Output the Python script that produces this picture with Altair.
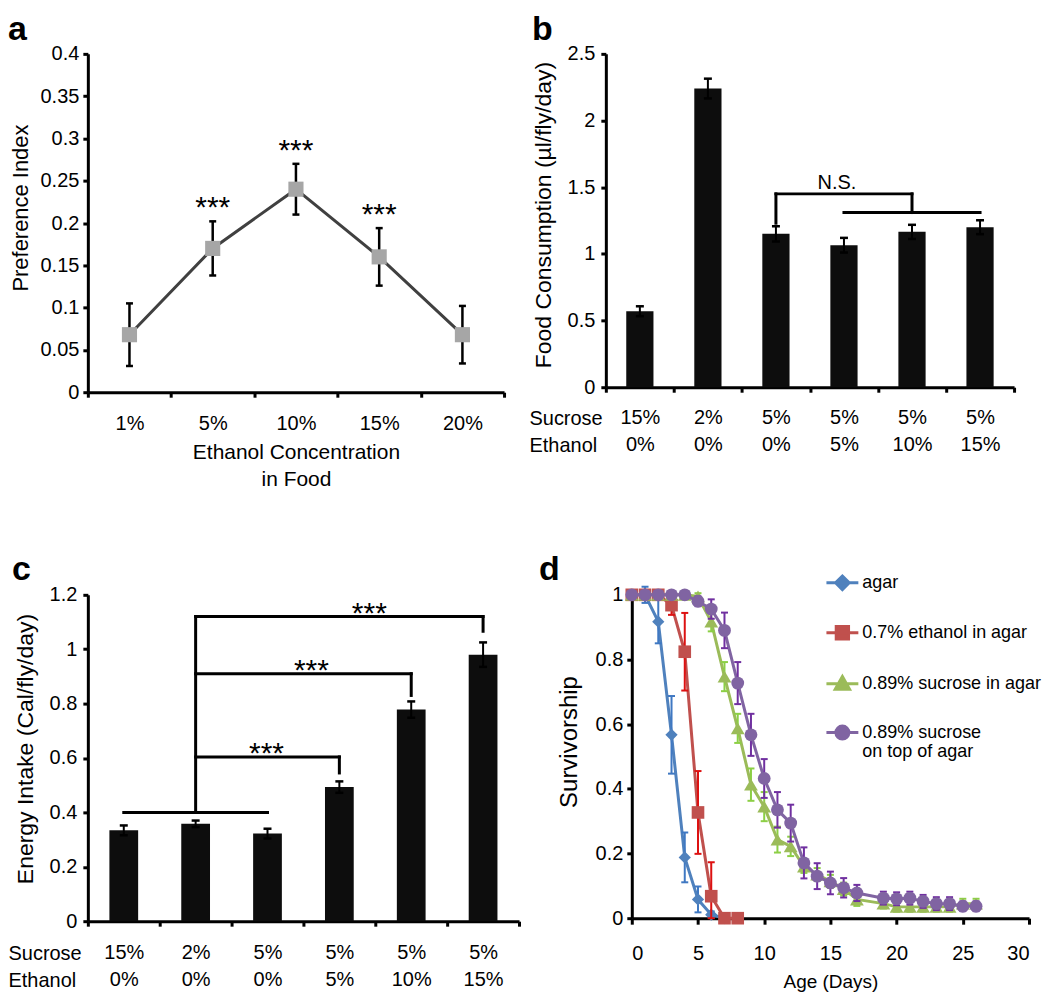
import altair as alt
import pandas as pd

FONT = "Liberation Sans"

# ---------------- panel a ----------------
eth_conc = ["1%", "5%", "10%", "15%", "20%"]
pref_index = [0.068, 0.170, 0.240, 0.160, 0.068]
pref_err = [0.037, 0.032, 0.030, 0.034, 0.034]
pref_sig = ["", "***", "***", "***", ""]
pref_ticks = [0, 0.05, 0.1, 0.15, 0.2, 0.25, 0.3, 0.35, 0.4]

# ---------------- panels b, c ----------------
sucrose = ["15%", "2%", "5%", "5%", "5%", "5%"]
ethanol = ["0%", "0%", "0%", "5%", "10%", "15%"]
consumption = [0.57, 2.24, 1.15, 1.065, 1.165, 1.20]
consumption_err = [0.037, 0.074, 0.057, 0.055, 0.053, 0.052]
consumption_ticks = [0, 0.5, 1, 1.5, 2, 2.5]
energy = [0.334, 0.358, 0.322, 0.493, 0.778, 0.980]
energy_err = [0.018, 0.012, 0.018, 0.021, 0.030, 0.045]
energy_ticks = [0, 0.2, 0.4, 0.6, 0.8, 1.0, 1.2]

b_bracket_from = [2, 2, 4, 3]
b_bracket_to = [2, 4, 4, 5]
b_bracket_y1 = [1.23, 1.45, 1.45, 1.31]
b_bracket_y2 = [1.45, 1.45, 1.31, 1.31]
b_note = "N.S."
b_note_at = 3
b_note_y = 1.49

c_bracket_from = [0, 1, 1, 5, 1, 4, 1, 3]
c_bracket_to = [2, 1, 5, 5, 4, 4, 3, 3]
c_bracket_y1 = [0.40, 0.40, 1.12, 1.12, 0.91, 0.91, 0.604, 0.604]
c_bracket_y2 = [0.40, 1.12, 1.12, 1.066, 0.91, 0.83, 0.604, 0.545]
c_star_at = [3, 3, 2]
c_star_y = [1.12, 0.91, 0.604]
c_star_dx = [30, -28, -1]

# ---------------- panel d ----------------
series_names = ["agar", "0.7% ethanol in agar", "0.89% sucrose in agar",
                "0.89% sucrose|on top of agar"]
series_colors = ["#4f81bd", "#c0504d", "#9bbb59", "#8064a2"]
error_colors = ["#3f78c2", "#dd1111", "#8ccf45", "#7030a0"]
series_shapes = ["diamond", "square", "triangle-up", "circle"]
series_sizes = [150, 160, 190, 165]

days_agar = [0, 1, 2, 3, 4, 5, 6, 7]
surv_agar = [1, 1, 0.917, 0.567, 0.188, 0.058, 0.011, 0.0]
err_agar = [0, 0.025, 0.067, 0.12, 0.077, 0.04, 0.01, 0]

days_eth = [0, 1, 2, 3, 4, 5, 6, 7, 8]
surv_eth = [1, 1, 1, 0.968, 0.824, 0.327, 0.068, 0.0, 0.0]
err_eth = [0, 0, 0, 0.03, 0.12, 0.128, 0.105, 0, 0]

days_long = [0, 1, 2, 3, 4, 5, 6, 7, 8, 9, 10, 11, 12, 13, 14, 15, 16, 17,
             19, 20, 21, 22, 23, 24, 25, 26]
surv_suc = [1, 1, 1, 1, 1, 0.995, 0.917, 0.747, 0.587, 0.413, 0.345, 0.243,
            0.222, 0.16, 0.135, 0.114, 0.09, 0.058,
            0.045, 0.035, 0.035, 0.035, 0.035, 0.035, 0.045, 0.045]
err_suc = [0, 0, 0, 0, 0, 0.01, 0.03, 0.045, 0.045, 0.05, 0.045, 0.04,
           0.03, 0.02, 0.02, 0.02, 0.02, 0.02,
           0.015, 0.015, 0.015, 0.015, 0.015, 0.015, 0.015, 0.015]
surv_top = [1, 1, 1, 1, 1, 0.98, 0.956, 0.89, 0.727, 0.567, 0.432, 0.335,
            0.294, 0.171, 0.13, 0.109, 0.094, 0.078,
            0.062, 0.06, 0.062, 0.052, 0.045, 0.045, 0.037, 0.037]
err_top = [0, 0, 0, 0, 0, 0.015, 0.03, 0.055, 0.065, 0.065, 0.06, 0.055,
           0.057, 0.048, 0.04, 0.035, 0.03, 0.025,
           0.02, 0.02, 0.02, 0.02, 0.02, 0.02, 0.015, 0.015]
surv_ticks = [0, 0.2, 0.4, 0.6, 0.8, 1.0]
day_ticks = [0, 5, 10, 15, 20, 25, 30]

# legend symbols: line segment + marker (custom symbol paths)
legend_paths = [
    "M-2.46,0H2.46M0,-1.05L1.05,0L0,1.05L-1.05,0Z",
    "M-2.46,0H2.46M-0.95,-0.95H0.95V0.95H-0.95Z",
    "M-2.46,0H2.46M0,-1.1L1.1,0.85H-1.1Z",
    "M-2.46,0H2.46M-1,0A1,1,0,1,0,1,0A1,1,0,1,0,-1,0Z",
]


def panel_title(letter, dx, offset):
    return alt.TitleParams(letter, anchor="start", frame="group", fontSize=34,
                           fontWeight="bold", font=FONT, dx=dx, offset=offset,
                           color="black", baseline="alphabetic")


# ================= panel a =================
a_df = pd.DataFrame({"conc": eth_conc, "pi": pref_index, "err": pref_err, "sig": pref_sig})
a_x = alt.X("conc:N",
            scale=alt.Scale(type="band", domain=eth_conc, paddingInner=0, paddingOuter=0),
            axis=alt.Axis(title=["Ethanol Concentration", "in Food"], labelAngle=0,
                          tickBand="extent", labelPadding=16, titlePadding=8,
                          titleFontSize=21, titleLineHeight=27))
a_yscale = alt.Scale(domain=[0, 0.4], nice=False)
a_yaxis = alt.Axis(title="Preference Index", values=pref_ticks, format="~g", tickSize=5,
                   labelPadding=4, titlePadding=8, titleFontSize=22, titleY=154)


def a_y(f):
    return alt.Y(f, scale=a_yscale, axis=a_yaxis)


a_base = alt.Chart(a_df).transform_calculate(lo="datum.pi - datum.err", hi="datum.pi + datum.err")
a_rule = a_base.mark_rule(color="black", strokeWidth=2.5).encode(x=a_x, y=a_y("lo:Q"), y2="hi:Q")
a_caps = a_base.transform_fold(["lo", "hi"], as_=["end", "v"]).mark_point(
    shape="stroke", size=49, strokeWidth=2.5, color="black", opacity=1).encode(x=a_x, y=a_y("v:Q"))
a_line = a_base.mark_line(color="#404040", strokeWidth=3).encode(x=a_x, y=a_y("pi:Q"))
a_pts = a_base.mark_point(shape="square", filled=True, size=230, color="#a6a6a6",
                          opacity=1).encode(x=a_x, y=a_y("pi:Q"))
a_txt = a_base.mark_text(fontSize=30, baseline="alphabetic", dy=-4, font=FONT,
                         color="black").encode(x=a_x, y=a_y("hi:Q"), text="sig:N")
panel_a = alt.layer(a_rule, a_caps, a_line, a_pts, a_txt).properties(
    width=417, height=339, title=panel_title("a", -80, -30))

# ================= panels b, c =================
cat_keys = [f"{s}|{e}" for s, e in zip(sucrose, ethanol)]


def bc_x(field, title_x, label_pad):
    return alt.X(field, bandPosition=0.5,
                 scale=alt.Scale(type="band", domain=cat_keys, paddingInner=0, paddingOuter=0),
                 axis=alt.Axis(title=["Sucrose", "Ethanol"], labelAngle=0, tickBand="extent",
                               labelExpr="split(datum.label, '|')", labelLineHeight=27,
                               labelPadding=label_pad, titleAngle=0, titleAlign="left",
                               titleBaseline="top", titleX=title_x, titleY=6 + label_pad,
                               titleFontSize=20, titleFontWeight="normal", titleLineHeight=27))


def bar_panel(values, errs, ticks, ymax, ytitle, title_x, label_pad, ytitle_pad, ytitle_y,
              br_from, br_to, br_y1, br_y2):
    df = pd.DataFrame({"cat": cat_keys, "v": values, "err": errs})
    yscale = alt.Scale(domain=[0, ymax], nice=False)
    yaxis = alt.Axis(title=ytitle, values=ticks, format="~g", tickSize=5, labelPadding=6,
                     titlePadding=ytitle_pad, titleFontSize=23, titleY=ytitle_y)
    x = bc_x("cat:N", title_x, label_pad)
    base = alt.Chart(df).transform_calculate(lo="datum.v - datum.err", hi="datum.v + datum.err")
    bars = base.mark_bar(color="#0d0d0d", width=alt.RelativeBandSize(0.4)).encode(
        x=x, y=alt.Y("v:Q", scale=yscale, axis=yaxis))
    rule = base.mark_rule(color="black", strokeWidth=2).encode(
        x=x, y=alt.Y("lo:Q", scale=yscale, axis=yaxis), y2="hi:Q")
    caps = base.transform_fold(["lo", "hi"], as_=["end", "w"]).mark_point(
        shape="stroke", size=64, strokeWidth=2.5, color="black", opacity=1).encode(
        x=x, y=alt.Y("w:Q", scale=yscale, axis=yaxis))
    br_df = pd.DataFrame({"x1": [cat_keys[i] for i in br_from],
                          "x2": [cat_keys[i] for i in br_to],
                          "y1": br_y1, "y2": br_y2})
    brackets = alt.Chart(br_df).mark_rule(color="black", strokeWidth=3, strokeCap="square").encode(
        x=bc_x("x1:N", title_x, label_pad), x2=alt.X2("x2", bandPosition=0.5),
        y=alt.Y("y1:Q", scale=yscale, axis=yaxis), y2="y2:Q")
    return [bars, rule, caps, brackets], yscale, yaxis, title_x, label_pad


b_layers, b_ys, b_ya, b_tx, b_lp = bar_panel(
    consumption, consumption_err, consumption_ticks, 2.5, "Food Consumption (µl/fly/day)",
    -77, 15, 12, 161, b_bracket_from, b_bracket_to, b_bracket_y1, b_bracket_y2)
b_note_df = pd.DataFrame({"cat": [cat_keys[b_note_at]], "y": [b_note_y], "t": [b_note]})
b_text = alt.Chart(b_note_df).mark_text(fontSize=20, font=FONT, baseline="alphabetic", dx=-7,
                                        color="black").encode(
    x=bc_x("cat:N", b_tx, b_lp), y=alt.Y("y:Q", scale=b_ys, axis=b_ya), text="t:N")
panel_b = alt.layer(*b_layers, b_text).properties(
    width=409, height=334, title=panel_title("b", -74, -30))

c_layers, c_ys, c_ya, c_tx, c_lp = bar_panel(
    energy, energy_err, energy_ticks, 1.2, "Energy Intake (Cal/fly/day)",
    -80, 16, 12, 154, c_bracket_from, c_bracket_to, c_bracket_y1, c_bracket_y2)
c_star_layers = []
for at, yv, dx in zip(c_star_at, c_star_y, c_star_dx):
    sdf = pd.DataFrame({"cat": [cat_keys[at]], "y": [yv], "t": ["***"]})
    c_star_layers.append(
        alt.Chart(sdf).mark_text(fontSize=30, font=FONT, baseline="alphabetic", dx=dx, dy=6,
                                 color="black").encode(
            x=bc_x("cat:N", c_tx, c_lp), y=alt.Y("y:Q", scale=c_ys, axis=c_ya), text="t:N"))
panel_c = alt.layer(*c_layers, *c_star_layers).properties(
    width=432, height=327, title=panel_title("c", -76, -29))

# ================= panel d =================
rows = []
for name, days, surv, err in zip(series_names,
                                 [days_agar, days_eth, days_long, days_long],
                                 [surv_agar, surv_eth, surv_suc, surv_top],
                                 [err_agar, err_eth, err_suc, err_top]):
    for dd, s, e in zip(days, surv, err):
        rows.append({"series": name, "day": dd, "surv": s, "err": e})
d_df = pd.DataFrame(rows)

d_x = alt.X("day:Q", scale=alt.Scale(domain=[0, 30], nice=False),
            axis=alt.Axis(values=day_ticks, title="Age (Days)", titleFontSize=19,
                          labelPadding=19, titlePadding=9, tickSize=6))
d_yscale = alt.Scale(domain=[0, 1], nice=False)
d_yaxis = alt.Axis(values=surv_ticks, format="~g", title="Survivorship", titleFontSize=24,
                   titlePadding=14, tickSize=5, labelPadding=4, titleY=147)


def d_y(f):
    return alt.Y(f, scale=d_yscale, axis=d_yaxis)


d_layers = []
for name, col, ecol, shp, sz in zip(series_names, series_colors, error_colors,
                                    series_shapes, series_sizes):
    sb = alt.Chart(d_df).transform_filter(alt.datum.series == name)
    d_layers.append(sb.mark_line(color=col, strokeWidth=3).encode(x=d_x, y=d_y("surv:Q")))
    eb = sb.transform_filter(alt.datum.err > 0).transform_calculate(
        lo="max(0, datum.surv - datum.err)", hi="datum.surv + datum.err")
    d_layers.append(eb.mark_rule(color=ecol, strokeWidth=2).encode(
        x=d_x, y=d_y("lo:Q"), y2="hi:Q"))
    d_layers.append(eb.transform_fold(["lo", "hi"], as_=["end", "w"]).mark_point(
        shape="stroke", size=49, strokeWidth=2, color=ecol, opacity=1).encode(
        x=d_x, y=d_y("w:Q")))
    d_layers.append(sb.mark_point(shape=shp, filled=True, size=sz, color=col,
                                  opacity=1).encode(x=d_x, y=d_y("surv:Q")))

d_legend = alt.Legend(orient="none", legendX=202, legendY=-21, title=None,
                      labelExpr="split(datum.label, '|')", labelFontSize=18, labelFont=FONT,
                      labelColor="black", labelLimit=400, symbolSize=169,
                      symbolStrokeWidth=3, rowPadding=24, labelOffset=11, padding=0)
legend_layer = alt.Chart(d_df).transform_filter("false").mark_point(
    filled=True, opacity=1).encode(
    x=d_x, y=d_y("surv:Q"),
    fill=alt.Fill("series:N", scale=alt.Scale(domain=series_names, range=series_colors),
                  legend=d_legend),
    stroke=alt.Stroke("series:N", scale=alt.Scale(domain=series_names, range=series_colors),
                      legend=d_legend),
    shape=alt.Shape("series:N", scale=alt.Scale(domain=series_names, range=legend_paths),
                    legend=d_legend))
panel_d = alt.layer(*d_layers, legend_layer).properties(
    width=398, height=324, title=panel_title("d", -93, -40))

row1 = alt.hconcat(panel_a, panel_b, spacing=23)
row2 = alt.hconcat(panel_c, panel_d, spacing=18).resolve_scale(
    fill="independent", stroke="independent", shape="independent")
chart = alt.vconcat(row1, row2, spacing=64).resolve_scale(
    fill="independent", stroke="independent", shape="independent"
).properties(padding={"top": 4, "left": 0, "right": 0, "bottom": 0}).configure(
    font=FONT
).configure_view(stroke=None).configure_axis(
    domainColor="black", domainWidth=3, tickColor="black", tickWidth=3, grid=False,
    labelFont=FONT, labelFontSize=20, labelColor="black", titleFont=FONT,
    titleFontWeight="normal", titleColor="black"
)

chart.save("out.html", embed_options={"renderer": "svg", "actions": False})
